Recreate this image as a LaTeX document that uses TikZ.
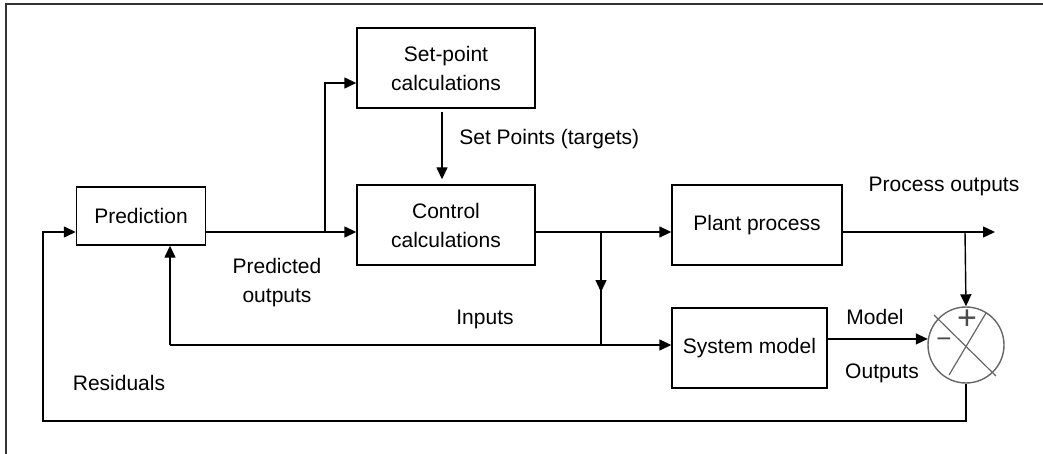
\documentclass[tikz,border=0pt]{standalone}
\usepackage{fontspec}
\setmainfont{Liberation Sans}
\usetikzlibrary{arrows.meta, calc}

\begin{document}
\begin{tikzpicture}[x=0.5pt, y=-0.5pt, line width=0.7pt,
    font=\fontsize{10.5}{14.5}\selectfont,
    block/.style={draw, align=center, inner sep=0pt, minimum height=40pt},
    flow/.style={-{Triangle[length=6pt, width=5.5pt]}},
    cross/.style={draw=black!60, line width=0.6pt},
    sign/.style={black!70, inner sep=0pt, font=\fontsize{17}{17}\selectfont}]
  \useasboundingbox (0, 0) rectangle (1043, 454);
  \draw[black!80] (6, 454) -- (6, 4) -- (1043, 4);

  \node[block, minimum width=64.5pt, minimum height=29pt] (pred) at (141, 216) {Prediction};
  \node[block, minimum width=89pt] (setp) at (446, 68) {Set-point\\calculations};
  \node[block, minimum width=89pt] (ctrl) at (446, 225) {Control\\calculations};
  \node[block, minimum width=85pt] (plant) at (757, 225) {Plant process};
  \node[block, minimum width=77.5pt] (model) at (749.5, 348) {System model};
  \node[draw=black!60, circle, minimum size=38pt, inner sep=0pt] (sum) at (966, 345) {};

  \draw[cross] ($(sum)+(-32, -30)$) -- ($(sum)+(30, 31)$);
  \draw[cross] ($(sum)+(20, -32)$) -- ($(sum)+(-17, 30)$);
  \node[sign] (plus) at (967, 320) {+};
  \node[sign, font=\fontsize{13}{13}\selectfont] (minus) at (944, 343) {−};

  \coordinate (split) at (325, 232);
  \coordinate (tap) at (601, 232);
  \coordinate (ptap) at (965, 232);
  \coordinate (pout) at (995, 232);
  \coordinate (inl) at (170, 345);
  \coordinate (fb) at (43, 421);

  \draw[flow] (pred.east |- split) -- (ctrl.west |- split);
  \draw[flow] (split) |- ([yshift=-7.5pt]setp.west);
  \draw[flow, shorten <=1.5pt, shorten >=2.5pt] ([xshift=-2pt]setp.south) -- ([xshift=-2pt]ctrl.north);
  \draw[flow] (ctrl.east |- tap) -- (plant.west |- tap);
  \draw[flow] (tap) -- ++(0, 60);
  \draw (tap) -- (tap |- inl);
  \draw[flow] (inl) -- (model.west |- inl);
  \draw[flow] (inl) -- (pred.south -| inl);
  \draw[flow] (plant.east |- tap) -- (pout);
  \draw[flow] (ptap) -- (sum.north);
  \draw[flow] (model.east |- sum.171) -- (sum.171);
  \draw[flow] (sum.south) |- (fb) |- (pred.west |- split);

  \node[anchor=west] (sptext) at (452, 139) {Set Points (targets)};
  \node[align=center] (predtext) at (277, 283) {Predicted\\outputs};
  \node (intext) at (485, 319) {Inputs};
  \node (restext) at (119, 383) {Residuals};
  \node (potext) at (944, 186) {Process outputs};
  \node (mtext) at (875, 317) {Model};
  \node (otext) at (882, 373) {Outputs};
\end{tikzpicture}
\end{document}
